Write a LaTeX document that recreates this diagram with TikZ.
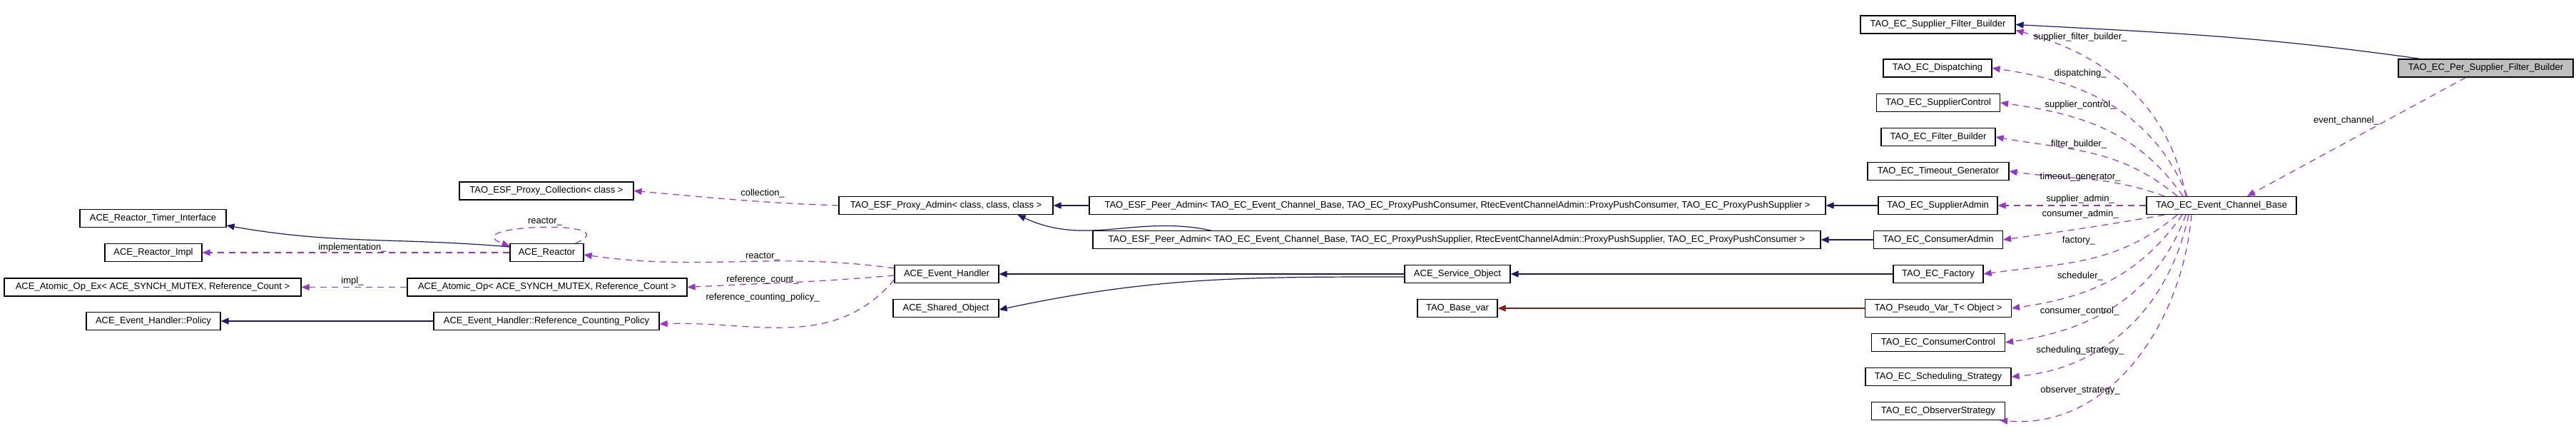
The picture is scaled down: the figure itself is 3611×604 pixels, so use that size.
\documentclass[tikz,border=0pt]{standalone}
\usepackage{fontspec}
\setmainfont{Liberation Sans}
\usetikzlibrary{arrows.meta}
\definecolor{navyline}{RGB}{25,25,112}
\definecolor{usedash}{RGB}{154,50,205}
\definecolor{tmplline}{RGB}{139,26,26}
\begin{document}
\begin{tikzpicture}[x=1pt, y=1pt, font=\fontsize{13}{15}\selectfont]
    \tikzstyle{cls} = [rectangle, draw, line width=1.2pt, inner sep=0pt,
    minimum height=25pt, text centered]
\tikzstyle{focus} = [cls, fill=black!25]
\tikzstyle{inherit} = [draw=navyline, line width=1.2pt, -{Triangle[length=11pt,width=9pt]}, navyline]
\tikzstyle{tmpl} = [inherit, draw=tmplline, tmplline]
\tikzstyle{uses} = [draw=usedash, line width=1.2pt, dash pattern=on 9pt off 7pt,
    -{Triangle[length=11pt,width=9pt]}, usedash]
\tikzstyle{lbl} = [inner sep=1pt]

    \useasboundingbox (0,0) rectangle (3611,604);
    % Place nodes
    \node [focus, minimum width=245] (psfb) at (3484.5,508.5) {TAO\_EC\_Per\_Supplier\_Filter\_Builder};
    \node [cls, minimum width=210] (ecb) at (3114,316) {TAO\_EC\_Event\_Channel\_Base};
    \node [cls, minimum width=217] (sfb) at (2716.5,569.5) {TAO\_EC\_Supplier\_Filter\_Builder};
    \node [cls, minimum width=152] (disp) at (2716,508.5) {TAO\_EC\_Dispatching};
    \node [cls, minimum width=173] (sctl) at (2717,460) {TAO\_EC\_SupplierControl};
    \node [cls, minimum width=160] (fltb) at (2717,412) {TAO\_EC\_Filter\_Builder};
    \node [cls, minimum width=198] (tgen) at (2717,364) {TAO\_EC\_Timeout\_Generator};
    \node [cls, minimum width=167] (sadm) at (2716.5,316) {TAO\_EC\_SupplierAdmin};
    \node [cls, minimum width=181] (cadm) at (2717,268) {TAO\_EC\_ConsumerAdmin};
    \node [cls, minimum width=126] (fact) at (2717,220) {TAO\_EC\_Factory};
    \node [cls, minimum width=205] (pvar) at (2717,172) {TAO\_Pseudo\_Var\_T< Object >};
    \node [cls, minimum width=187] (cctl) at (2717,124) {TAO\_EC\_ConsumerControl};
    \node [cls, minimum width=204] (sstr) at (2717,76) {TAO\_EC\_Scheduling\_Strategy};
    \node [cls, minimum width=187] (ostr) at (2717,28) {TAO\_EC\_ObserverStrategy};
    \node [cls, minimum width=1032] (peer1) at (2043,316) {TAO\_ESF\_Peer\_Admin< TAO\_EC\_Event\_Channel\_Base, TAO\_EC\_ProxyPushConsumer, RtecEventChannelAdmin::ProxyPushConsumer, TAO\_EC\_ProxyPushSupplier >};
    \node [cls, minimum width=1020] (peer2) at (2042,268) {TAO\_ESF\_Peer\_Admin< TAO\_EC\_Event\_Channel\_Base, TAO\_EC\_ProxyPushSupplier, RtecEventChannelAdmin::ProxyPushSupplier, TAO\_EC\_ProxyPushConsumer >};
    \node [cls, minimum width=300] (padm) at (1326,316) {TAO\_ESF\_Proxy\_Admin< class, class, class >};
    \node [cls, minimum width=148] (svco) at (2043,220) {ACE\_Service\_Object};
    \node [cls, minimum width=112] (bvar) at (2043,172) {TAO\_Base\_var};
    \node [cls, minimum width=146] (evh) at (1327,220) {ACE\_Event\_Handler};
    \node [cls, minimum width=148] (shro) at (1326,172) {ACE\_Shared\_Object};
    \node [cls, minimum width=244] (pcol) at (766,336.5) {TAO\_ESF\_Proxy\_Collection< class >};
    \node [cls, minimum width=103] (rct) at (766.5,250) {ACE\_Reactor};
    \node [cls, minimum width=392] (aop) at (767,201.5) {ACE\_Atomic\_Op< ACE\_SYNCH\_MUTEX, Reference\_Count >};
    \node [cls, minimum width=316] (rcp) at (766,154) {ACE\_Event\_Handler::Reference\_Counting\_Policy};
    \node [cls, minimum width=205] (rti) at (214.5,298) {ACE\_Reactor\_Timer\_Interface};
    \node [cls, minimum width=136] (rimp) at (215,250) {ACE\_Reactor\_Impl};
    \node [cls, minimum width=416] (aopx) at (214,201.5) {ACE\_Atomic\_Op\_Ex< ACE\_SYNCH\_MUTEX, Reference\_Count >};
    \node [cls, minimum width=188] (ehp) at (215,154) {ACE\_Event\_Handler::Policy};
    % Draw inheritance edges
    \path [inherit] ([xshift=-92]psfb.north) to[out=172, in=-3] (sfb.east);
    \path [inherit] (sadm) -- (peer1);
    \path [inherit] (cadm) -- (peer2);
    \path [inherit] (peer1) -- (padm);
    \path [inherit] ([xshift=-345]peer2.north) to[out=168, in=-25] ([xshift=-50]padm.south east);
    \path [inherit] (fact) -- (svco);
    \path [inherit] (svco) -- (evh);
    \path [inherit] ([yshift=-4]svco.west) to[out=180, in=12] ([yshift=-2]shro.east);
    \path [tmpl] (pvar) -- (bvar);
    \path [inherit] ([yshift=8]rct.west) to[out=175, in=-10] ([yshift=-10]rti.east);
    \path [inherit] (rcp) -- (ehp);
    % Draw usage edges
    \path [uses] ([xshift=-28]psfb.south) -- ([xshift=36]ecb.north);
    \path [uses] ([xshift=-50]ecb.north) to[out=100, in=-15] ([yshift=-8]sfb.east);
    \path [uses] ([xshift=-48]ecb.north) to[out=112, in=-8] (disp.east);
    \path [uses] ([xshift=-54]ecb.north) to[out=125, in=-8] (sctl.east);
    \path [uses] ([xshift=-62]ecb.north) to[out=140, in=-10] (fltb.east);
    \path [uses] ([xshift=-80]ecb.north) to[out=160, in=-8] (tgen.east);
    \path [uses] (ecb) -- (sadm);
    \path [uses] ([xshift=-80]ecb.south) to[out=190, in=8] (cadm.east);
    \path [uses] ([xshift=-62]ecb.south) to[out=220, in=8] (fact.east);
    \path [uses] ([xshift=-55]ecb.south) to[out=235, in=8] (pvar.east);
    \path [uses] ([xshift=-50]ecb.south) to[out=250, in=8] (cctl.east);
    \path [uses] ([xshift=-46]ecb.south) to[out=258, in=5] (sstr.east);
    \path [uses] ([xshift=-42]ecb.south) to[out=265, in=-5] ([xshift=-8]ostr.south east);
    \path [uses] (padm.west) to[out=178, in=-5] (pcol.east);
    \path [uses] ([xshift=-12]rct.north east) .. controls +(80,34) and +(-80,30) .. ([yshift=-4]rct.north west);
    \path [uses] (rct) -- (rimp);
    \path [uses] ([yshift=8]evh.west) to[out=172, in=-8] ([yshift=-3]rct.east);
    \path [uses] ([yshift=-2]evh.west) to[out=185, in=3] (aop.east);
    \path [uses] ([yshift=-8]evh.west) to[out=230, in=2] ([yshift=-4]rcp.east);
    \path [uses] (aop) -- (aopx);
    % Edge labels
    \node [lbl] (l1) at (3289,435) {event\_channel\_};
    \node [lbl] (l2) at (2916,552) {supplier\_filter\_builder\_};
    \node [lbl] (l3) at (2916,501) {dispatching\_};
    \node [lbl] (l4) at (2916,457) {supplier\_control\_};
    \node [lbl] (l5) at (2914,402) {filter\_builder\_};
    \node [lbl] (l6) at (2916,356) {timeout\_generator\_};
    \node [lbl] (l7) at (2916,325) {supplier\_admin\_};
    \node [lbl] (l8) at (2916,304) {consumer\_admin\_};
    \node [lbl] (l9) at (2914,267) {factory\_};
    \node [lbl] (l10) at (2916,217) {scheduler\_};
    \node [lbl] (l11) at (2915,168) {consumer\_control\_};
    \node [lbl] (l12) at (2916,113) {scheduling\_strategy\_};
    \node [lbl] (l13) at (2916,57) {observer\_strategy\_};
    \node [lbl] (l14) at (1069,333) {collection\_};
    \node [lbl] (l15) at (764,293) {reactor\_};
    \node [lbl] (l16) at (494,257) {implementation\_};
    \node [lbl] (l17) at (1069,244) {reactor\_};
    \node [lbl] (l18) at (494,210) {impl\_};
    \node [lbl] (l19) at (1069,212) {reference\_count\_};
    \node [lbl] (l20) at (1069,187) {reference\_counting\_policy\_};
\end{tikzpicture}
\end{document}
